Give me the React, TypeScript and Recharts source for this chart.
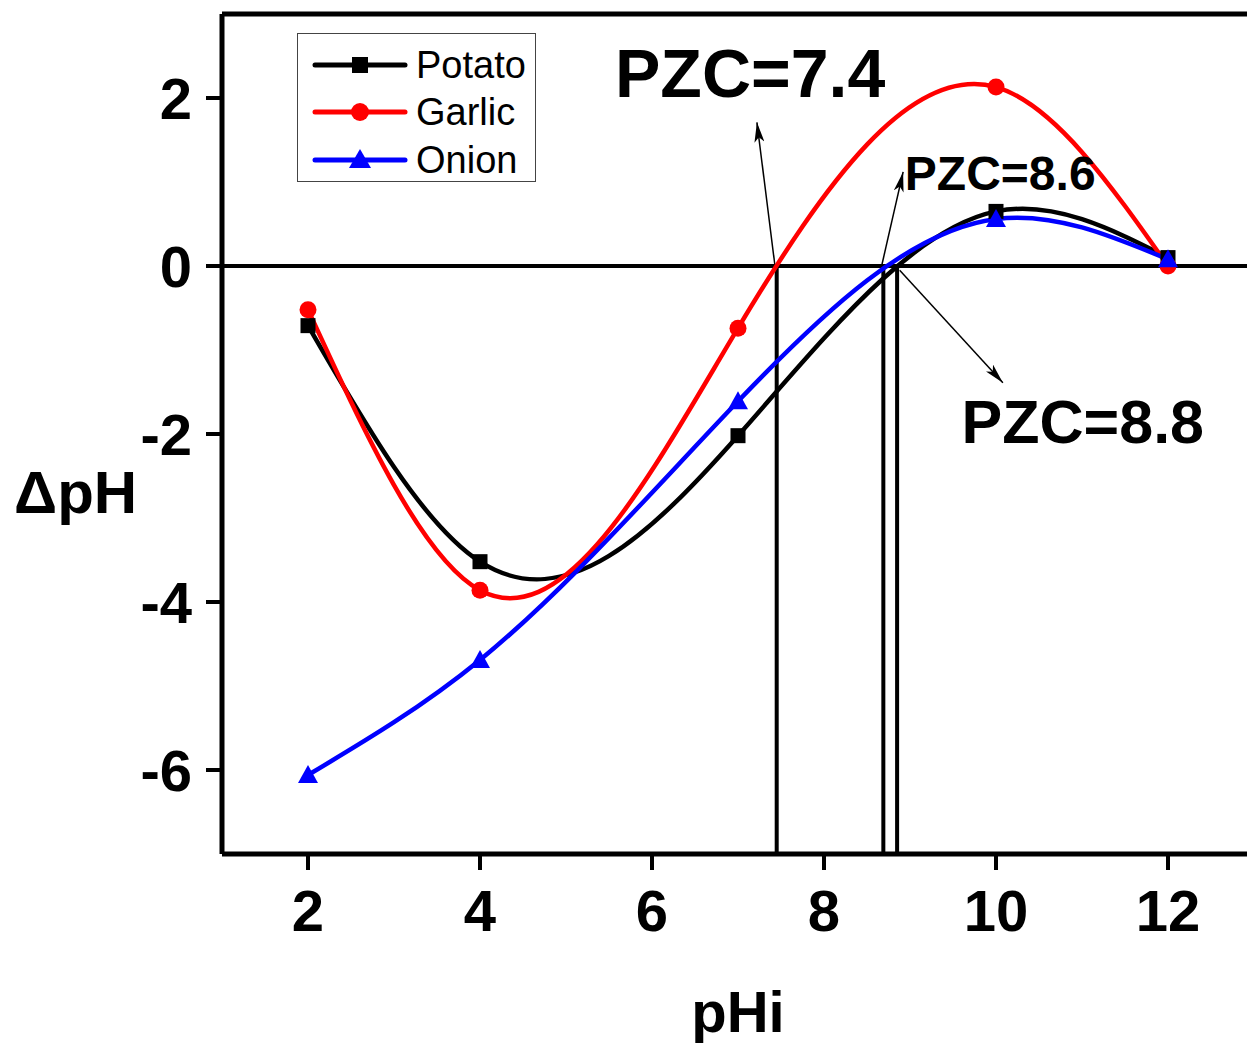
import React from "react";
import {
  ComposedChart,
  Line,
  XAxis,
  YAxis,
  ReferenceLine,
  ReferenceDot,
} from "recharts";

const pHi = [2, 4, 7, 10, 12];
const potato = [-0.71, -3.52, -2.02, 0.65, 0.1];
const garlic = [-0.52, -3.86, -0.74, 2.13, 0.0];
const onion = [-6.06, -4.69, -1.61, 0.56, 0.08];

const xTicks = [2, 4, 6, 8, 10, 12];
const yTicks = [-6, -4, -2, 0, 2];

const pzcLines = [7.45, 8.69, 8.85];
const arrows = [
  { x1: 7.43, y1: 0, x2: 7.22, y2: 1.71 },
  { x1: 8.67, y1: 0, x2: 8.92, y2: 1.12 },
  { x1: 8.88, y1: -0.05, x2: 10.08, y2: -1.39 },
];
const annotations = [
  { text: "PZC=7.4", x: 5.57, y: 2.01, size: 68 },
  { text: "PZC=8.6", x: 8.94, y: 0.905, size: 48 },
  { text: "PZC=8.8", x: 9.6, y: -2.11, size: 61 },
];

const rows = pHi.map((x, i) => ({ x, potato: potato[i], garlic: garlic[i], onion: onion[i] }));

const FONT = "'Liberation Sans', Arial, sans-serif";

// natural cubic spline with y as a function of x (like Origin's spline connector)
const splineX = (context: any) => {
  let xs: number[] = [];
  let ys: number[] = [];
  return {
    areaStart() {},
    areaEnd() {},
    lineStart() {
      xs = [];
      ys = [];
    },
    point(x: number, y: number) {
      xs.push(+x);
      ys.push(+y);
    },
    lineEnd() {
      const n = xs.length;
      if (n === 0) return;
      context.moveTo(xs[0], ys[0]);
      if (n === 1) return;
      if (n === 2) {
        context.lineTo(xs[1], ys[1]);
        return;
      }
      const h: number[] = [];
      const s: number[] = [];
      for (let i = 0; i < n - 1; i++) {
        h[i] = xs[i + 1] - xs[i];
        s[i] = (ys[i + 1] - ys[i]) / h[i];
      }
      const M = new Array(n).fill(0);
      const a: number[] = [];
      const b: number[] = [];
      const c: number[] = [];
      const d: number[] = [];
      for (let i = 1; i <= n - 2; i++) {
        a[i] = h[i - 1];
        b[i] = 2 * (h[i - 1] + h[i]);
        c[i] = h[i];
        d[i] = 6 * (s[i] - s[i - 1]);
      }
      for (let i = 2; i <= n - 2; i++) {
        const w = a[i] / b[i - 1];
        b[i] -= w * c[i - 1];
        d[i] -= w * d[i - 1];
      }
      M[n - 2] = d[n - 2] / b[n - 2];
      for (let i = n - 3; i >= 1; i--) M[i] = (d[i] - c[i] * M[i + 1]) / b[i];
      for (let i = 0; i < n - 1; i++) {
        const dl = s[i] - (h[i] * (2 * M[i] + M[i + 1])) / 6;
        const dr = s[i] + (h[i] * (M[i] + 2 * M[i + 1])) / 6;
        context.bezierCurveTo(
          xs[i] + h[i] / 3,
          ys[i] + (dl * h[i]) / 3,
          xs[i + 1] - h[i] / 3,
          ys[i + 1] - (dr * h[i]) / 3,
          xs[i + 1],
          ys[i + 1]
        );
      }
    },
  };
};

const SquareDot = (p: any) =>
  p.cx == null ? null : (
    <rect key={`s${p.index}`} x={p.cx - 7.5} y={p.cy - 7.5} width={15} height={15} fill="#000" />
  );
const CircleDot = (p: any) =>
  p.cx == null ? null : <circle key={`c${p.index}`} cx={p.cx} cy={p.cy} r={8.5} fill="#ff0000" />;
const TriDot = (p: any) =>
  p.cx == null ? null : (
    <path
      key={`t${p.index}`}
      d={`M${p.cx},${p.cy - 10} L${p.cx + 10},${p.cy + 8} L${p.cx - 10},${p.cy + 8} Z`}
      fill="#0000ff"
    />
  );

const legendItems = [
  { name: "Potato", color: "#000", shape: "square" },
  { name: "Garlic", color: "#ff0000", shape: "circle" },
  { name: "Onion", color: "#0000ff", shape: "triangle" },
];

const LegendBox = () => (
  <div
    style={{
      position: "absolute",
      left: 297,
      top: 33,
      border: "1.5px solid #444",
      width: 239,
      height: 149,
      boxSizing: "border-box",
      background: "#fff",
      paddingTop: 7,
    }}
  >
    {legendItems.map((it) => (
      <div key={it.name} style={{ display: "flex", alignItems: "center", height: 47.5 }}>
        <svg width={118} height={30} style={{ display: "block" }}>
          <line x1={17} y1={15} x2={107} y2={15} stroke={it.color} strokeWidth={5} strokeLinecap="round" />
          {it.shape === "square" && <rect x={54} y={7} width={16} height={16} fill={it.color} />}
          {it.shape === "circle" && <circle cx={62} cy={15} r={9} fill={it.color} />}
          {it.shape === "triangle" && <path d="M62,4 L73,23 L51,23 Z" fill={it.color} />}
        </svg>
        <span style={{ fontFamily: FONT, fontSize: 38, color: "#000", lineHeight: 1 }}>{it.name}</span>
      </div>
    ))}
  </div>
);

const ArrowShape = (p: any) => (
  <line
    x1={p.x1}
    y1={p.y1}
    x2={p.x2}
    y2={p.y2}
    stroke="#000"
    strokeWidth={1.5}
    markerEnd="url(#pzcArrow)"
  />
);

export default function App() {
  return (
    <div style={{ position: "fixed", left: 0, top: 0, width: 1247, height: 1043, overflow: "hidden", background: "#fff" }}>
      <svg width={0} height={0} style={{ position: "absolute" }}>
        <defs>
          <marker id="pzcArrow" viewBox="0 0 20 10" refX={20} refY={5} markerWidth={20} markerHeight={10} markerUnits="userSpaceOnUse" orient="auto">
            <path d="M0,0 L20,5 L0,10 L5,5 Z" fill="#000" />
          </marker>
        </defs>
      </svg>
      <ComposedChart
        width={1262}
        height={1043}
        data={rows}
        margin={{ top: 14, right: 8, bottom: 0, left: 0 }}
      >
        <XAxis
          type="number"
          dataKey="x"
          domain={[1, 13]}
          ticks={xTicks}
          allowDataOverflow
          height={189}
          tickSize={16}
          tickMargin={20}
          axisLine={{ stroke: "#000", strokeWidth: 5 }}
          tickLine={{ stroke: "#000", strokeWidth: 4 }}
          tick={{ fill: "#000", fontSize: 58, fontWeight: 700, fontFamily: FONT }}
          label={{
            value: "pHi",
            position: "insideBottom",
            offset: 11,
            fill: "#000",
            fontSize: 58,
            fontWeight: 700,
            fontFamily: FONT,
          }}
        />
        <YAxis
          type="number"
          domain={[-7, 3]}
          ticks={yTicks}
          allowDataOverflow
          width={222}
          tickSize={16}
          tickMargin={14}
          axisLine={{ stroke: "#000", strokeWidth: 5 }}
          tickLine={{ stroke: "#000", strokeWidth: 4 }}
          tick={{ fill: "#000", fontSize: 58, fontWeight: 700, fontFamily: FONT }}
          label={{
            content: () => (
              <text x={14} y={513} fill="#000" fontSize={60} fontWeight={700} fontFamily={FONT}>
                ΔpH
              </text>
            ),
          }}
        />
        <ReferenceLine y={3} stroke="#000" strokeWidth={5} ifOverflow="visible" />
        <ReferenceLine y={0} stroke="#000" strokeWidth={4} />
        {pzcLines.map((x) => (
          <ReferenceLine
            key={`v${x}`}
            segment={[
              { x, y: 0 },
              { x, y: -7 },
            ]}
            stroke="#000"
            strokeWidth={4}
          />
        ))}
        {arrows.map((a, i) => (
          <ReferenceLine
            key={`a${i}`}
            segment={[
              { x: a.x1, y: a.y1 },
              { x: a.x2, y: a.y2 },
            ]}
            shape={ArrowShape}
          />
        ))}
        <Line
          type={splineX as any}
          dataKey="potato"
          stroke="#000"
          strokeWidth={4.5}
          dot={SquareDot}
          activeDot={false}
          isAnimationActive={false}
        />
        <Line
          type={splineX as any}
          dataKey="garlic"
          stroke="#ff0000"
          strokeWidth={4.5}
          dot={CircleDot}
          activeDot={false}
          isAnimationActive={false}
        />
        <Line
          type={splineX as any}
          dataKey="onion"
          stroke="#0000ff"
          strokeWidth={4.5}
          dot={TriDot}
          activeDot={false}
          isAnimationActive={false}
        />
        {annotations.map((a) => (
          <ReferenceDot
            key={a.text}
            x={a.x}
            y={a.y}
            r={1}
            shape={(p: any) => (
              <text x={p.cx} y={p.cy} fill="#000" fontSize={a.size} fontWeight={700} fontFamily={FONT}>
                {a.text}
              </text>
            )}
          />
        ))}
      </ComposedChart>
      <LegendBox />
    </div>
  );
}
